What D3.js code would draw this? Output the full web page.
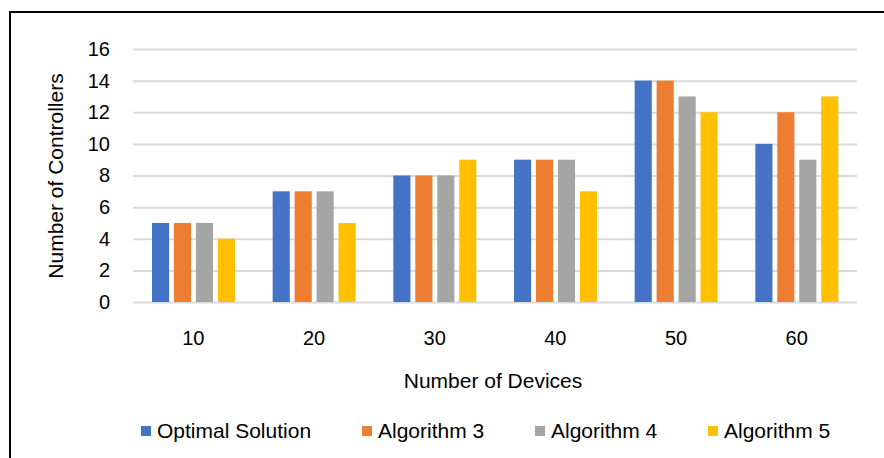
<!DOCTYPE html>
<html>
<head>
<meta charset="utf-8">
<script src="https://cdn.jsdelivr.net/npm/d3@7"></script>
<style>
  body { margin: 0; background: #fff; }
  text { font-family: "Liberation Sans", Arial, sans-serif; fill: #000; }
</style>
</head>
<body>
<div id="chart"></div>
<script>
// data
const devices = ["10", "20", "30", "40", "50", "60"];
const seriesNames = ["Optimal Solution", "Algorithm 3", "Algorithm 4", "Algorithm 5"];
const optimal = [5, 7, 8, 9, 14, 10];
const algo3 = [5, 7, 8, 9, 14, 12];
const algo4 = [5, 7, 8, 9, 13, 9];
const algo5 = [4, 5, 9, 7, 12, 13];
const yTicks = [0, 2, 4, 6, 8, 10, 12, 14, 16];
const colors = ["#4472C4", "#ED7D31", "#A5A5A5", "#FFC000"];

const seriesValues = [optimal, algo3, algo4, algo5];
const rows = [];
devices.forEach((dev, i) => {
  seriesNames.forEach((s, j) => rows.push({ device: dev, series: s, value: seriesValues[j][i] }));
});

/** CONSTANTS */
const width = 884;
const height = 458;
const plot = { left: 133, right: 857, top: 49, bottom: 302 };

/** SCALES */
const x0 = d3.scaleBand()
  .domain(devices)
  .range([plot.left, plot.right]);

const x1 = d3.scaleBand()
  .domain(seriesNames)
  .range([19, 102])
  .paddingInner(0.22);

const y = d3.scaleLinear()
  .domain([0, 16])
  .range([plot.bottom, plot.top]);

const color = d3.scaleOrdinal().domain(seriesNames).range(colors);

/** DRAWING ELEMENTS */
const svg = d3.select("#chart")
  .append("svg")
  .attr("width", width)
  .attr("height", height);

// outer frame
svg.append("rect")
  .attr("x", 10)
  .attr("y", 12)
  .attr("width", width + 20)
  .attr("height", height + 20)
  .attr("fill", "none")
  .attr("stroke", "#000")
  .attr("stroke-width", 2);

// gridlines + y labels
const yAxis = d3.axisLeft(y)
  .tickValues(yTicks)
  .tickSize(-(plot.right - plot.left))
  .tickPadding(23);

svg.append("g")
  .attr("transform", `translate(${plot.left},0)`)
  .call(yAxis)
  .call(g => g.select(".domain").remove())
  .call(g => g.selectAll("line").attr("stroke", "#D9D9D9").attr("stroke-width", 2))
  .call(g => g.selectAll("text").style("font-size", "20px").attr("fill", "#000"));

// bars
svg.append("g")
  .selectAll("rect")
  .data(rows)
  .join("rect")
  .attr("x", d => x0(d.device) + x1(d.series))
  .attr("y", d => y(d.value))
  .attr("width", x1.bandwidth())
  .attr("height", d => y(0) - y(d.value))
  .attr("fill", d => color(d.series));

// x labels
const xAxis = d3.axisBottom(x0).tickSize(0).tickPadding(29);
svg.append("g")
  .attr("transform", `translate(0,${plot.bottom})`)
  .call(xAxis)
  .call(g => g.select(".domain").remove())
  .call(g => g.selectAll("text").style("font-size", "20px").attr("fill", "#000"));

// axis titles
svg.append("text")
  .attr("x", (plot.left + plot.right) / 2 - 2)
  .attr("y", 388)
  .attr("text-anchor", "middle")
  .style("font-size", "21px")
  .text("Number of Devices");

svg.append("text")
  .attr("transform", "translate(63,176) rotate(-90)")
  .attr("text-anchor", "middle")
  .style("font-size", "21px")
  .text("Number of Controllers");

// legend
const legendX = [141, 362, 535, 708];
const legend = svg.append("g")
  .selectAll("g")
  .data(seriesNames)
  .join("g")
  .attr("transform", (d, i) => `translate(${legendX[i]},426)`);

legend.append("rect")
  .attr("width", 10)
  .attr("height", 10)
  .attr("fill", d => color(d));

legend.append("text")
  .attr("x", 16)
  .attr("y", 12)
  .style("font-size", "21px")
  .text(d => d);
</script>
</body>
</html>
